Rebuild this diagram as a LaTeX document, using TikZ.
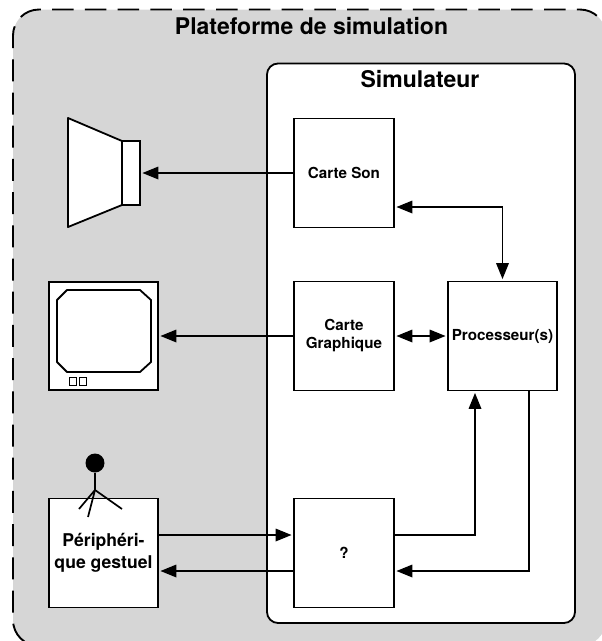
\documentclass[tikz,border=0pt]{standalone}
\usepackage{fontspec}
\setmainfont{TeX Gyre Heros}
\usetikzlibrary{arrows.meta}
\tikzset{
  block/.style={draw,line width=1.8pt,fill=white,minimum width=100pt,minimum height=109pt,inner sep=0pt,align=center,font=\bfseries\fontsize{15.2}{18}\selectfont},
  link/.style={line width=1.8pt,shorten >=1.5pt,-{Triangle[width=12.5pt,length=16pt]}},
  linkboth/.style={line width=1.8pt,shorten >=1.5pt,shorten <=1.5pt,{Triangle[width=12.5pt,length=16pt]}-{Triangle[width=12.5pt,length=16pt]}},
  shapeline/.style={draw,line width=1.8pt,line join=round,fill=white},
  titre/.style={font=\bfseries\fontsize{23}{26}\selectfont},
  pointille/.style={line width=1.9pt,rounded corners=26pt}
}
\begin{document}
\begin{tikzpicture}[x=1pt,y=-1pt]
\useasboundingbox (0,0) rectangle (602,641);
% cadre de la plateforme
\fill[black!16,rounded corners=26pt] (13,9.5) rectangle (606,646);
\draw[pointille,dash pattern=on 21.5pt off 11.3pt] (52,9.5) -- (606,9.5) -- (606,60);
\draw[pointille,dash pattern=on 22pt off 11.2pt,dash phase=22pt] (52,9.5) -- (13,9.5) -- (13,646) -- (100,646);
\node[titre] (plateforme) at (311.5,26) {Plateforme de simulation};
\draw[fill=white,line width=1.8pt,rounded corners=11pt] (267,63.5) rectangle (575,623);
\node[titre] (simulateur) at (420,79) {Simulateur};

\node[block] (son) at (344,173) {Carte Son};
\node[block] (graphique) at (344,336) {Carte\\Graphique};
\node[block,minimum width=109pt] (proc) at (502.5,336) {Processeur(s)};
\node[block] (inconnu) at (344,553) {?};
\node[block,minimum width=109pt,font=\bfseries\fontsize{17.6}{22}\selectfont] (peri) at (103.5,553) {Périphéri-\\que gestuel};

% haut-parleur
\draw[shapeline] (68,118) -- (122,141) -- (122,205) -- (68,227) -- cycle;
\node[draw,line width=1.8pt,fill=white,minimum width=18pt,minimum height=64pt,inner sep=0pt] (hp) at (131,173) {};

% ecran
\node[draw,line width=1.8pt,fill=white,minimum width=109pt,minimum height=108pt,inner sep=0pt] (ecran) at (103.5,336) {};
\draw[shapeline] (67,290) -- (140,290) -- (151,300) -- (151,362) -- (140,372) -- (67,372) -- (57,362) -- (57,300) -- cycle;
\draw[line width=.7pt] (69.5,377) rectangle (76.5,385);
\draw[line width=.7pt] (79,377) rectangle (86,385);

% personnage
\node[circle,fill=black,minimum size=19pt,inner sep=0pt] (tete) at (95,463) {};
\coordinate (bassin) at (95,490);
\draw[line width=1.7pt] (tete) -- (bassin);
\draw[line width=1.7pt] (bassin) -- (79,509);
\draw[line width=1.7pt] (bassin) -- (88,517);
\draw[line width=1.7pt] (bassin) -- (122,509);

\draw[link] (son.west) -- (hp.east);
\draw[link] (graphique.west) -- (ecran.east);
\draw[linkboth] (graphique.east) -- (proc.west);
\draw[linkboth] (son.east |- 0,207) -| (proc.north);
\draw[link] (inconnu.east |- 0,535) -| (proc.south -| 475,0);
\draw[link] (proc.south -| 529,0) |- (inconnu.east |- 0,571);
\draw[link] (peri.east |- 0,535) -- (inconnu.west |- 0,535);
\draw[link] (inconnu.west |- 0,571) -- (peri.east |- 0,571);
\end{tikzpicture}
\end{document}
